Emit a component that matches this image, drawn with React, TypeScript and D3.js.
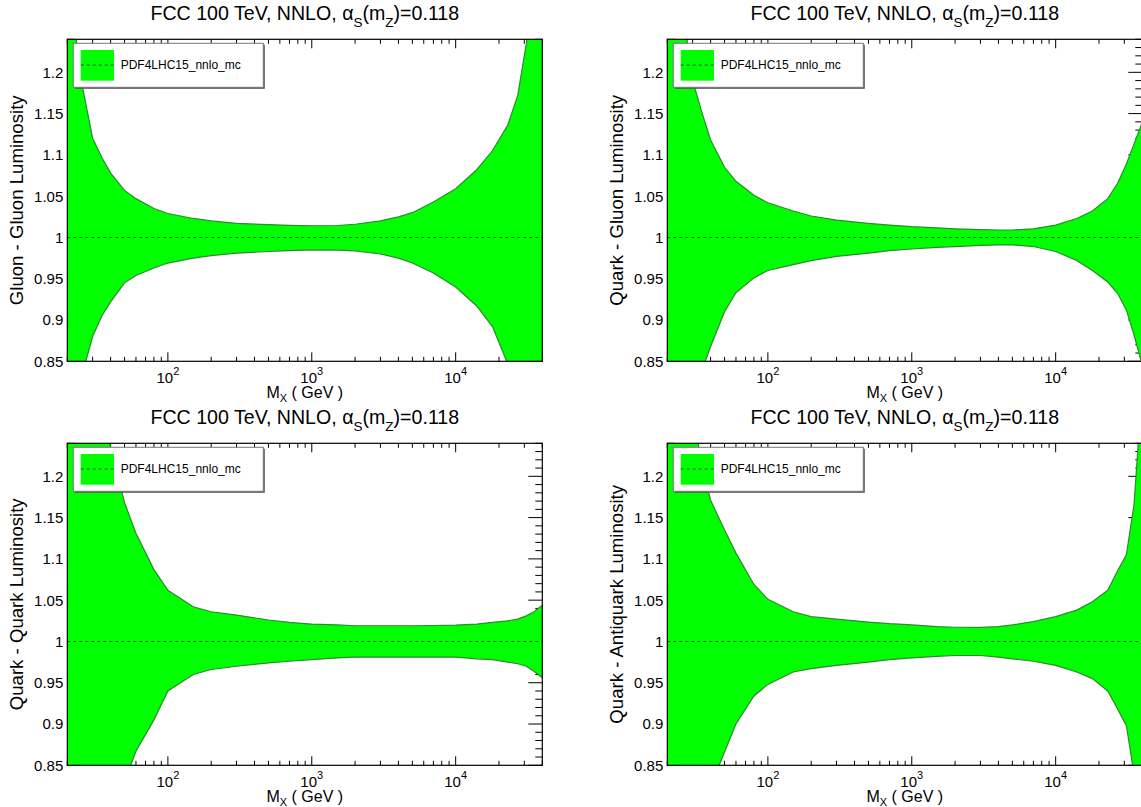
import React from "react";
import * as d3 from "d3";

// ---------- data ----------
const MASS = [20, 25, 30, 35, 40, 50, 60, 80, 100, 150, 200, 300, 500, 700, 1000, 1500, 2000, 3000, 4000, 5000, 7000, 10000, 14000, 18000, 23000, 27000, 31000, 35000, 40000];

const ggUpper = [1.33, 1.19, 1.12, 1.096, 1.078, 1.057, 1.047, 1.035, 1.029, 1.023, 1.020, 1.017, 1.0155, 1.0147, 1.0142, 1.0145, 1.016, 1.020, 1.025, 1.030, 1.043, 1.059, 1.082, 1.105, 1.136, 1.172, 1.235, 1.30, 1.40];
const ggLower = [0.70, 0.83, 0.880, 0.906, 0.922, 0.945, 0.954, 0.963, 0.969, 0.975, 0.978, 0.981, 0.983, 0.984, 0.985, 0.9847, 0.9838, 0.980, 0.975, 0.969, 0.957, 0.940, 0.917, 0.892, 0.847, 0.80, 0.75, 0.70, 0.63];

const qgUpper = [1.42, 1.29, 1.19, 1.150, 1.118, 1.085, 1.068, 1.051, 1.042, 1.032, 1.026, 1.021, 1.017, 1.015, 1.013, 1.0115, 1.0105, 1.0095, 1.009, 1.009, 1.0105, 1.015, 1.023, 1.032, 1.047, 1.066, 1.089, 1.113, 1.140];
const qgLower = [0.62, 0.71, 0.79, 0.84, 0.868, 0.910, 0.933, 0.951, 0.960, 0.967, 0.972, 0.977, 0.981, 0.984, 0.986, 0.988, 0.989, 0.9905, 0.991, 0.991, 0.989, 0.983, 0.972, 0.960, 0.946, 0.932, 0.912, 0.882, 0.845];

const qqUpper = [1.55, 1.45, 1.36, 1.29, 1.235, 1.168, 1.131, 1.087, 1.062, 1.042, 1.036, 1.032, 1.026, 1.023, 1.021, 1.020, 1.019, 1.019, 1.019, 1.019, 1.0193, 1.0198, 1.021, 1.023, 1.025, 1.027, 1.031, 1.036, 1.044];
const qqLower = [0.45, 0.53, 0.61, 0.68, 0.74, 0.83, 0.867, 0.905, 0.940, 0.960, 0.966, 0.970, 0.974, 0.976, 0.978, 0.980, 0.981, 0.981, 0.981, 0.981, 0.981, 0.981, 0.979, 0.978, 0.975, 0.973, 0.970, 0.964, 0.956];

const qqbarUpper = [1.50, 1.38, 1.28, 1.21, 1.171, 1.135, 1.107, 1.069, 1.051, 1.036, 1.030, 1.027, 1.0235, 1.0215, 1.020, 1.018, 1.0172, 1.017, 1.018, 1.020, 1.024, 1.030, 1.038, 1.048, 1.062, 1.086, 1.105, 1.165, 1.31];
const qqbarLower = [0.55, 0.64, 0.72, 0.78, 0.825, 0.866, 0.900, 0.934, 0.948, 0.963, 0.967, 0.971, 0.975, 0.978, 0.980, 0.982, 0.983, 0.983, 0.981, 0.979, 0.976, 0.971, 0.963, 0.955, 0.940, 0.918, 0.898, 0.84, 0.70];

const Y_LABELS = ["Gluon - Gluon Luminosity", "Quark - Gluon Luminosity", "Quark - Quark Luminosity", "Quark - Antiquark Luminosity"];
const Y_TICKS = [0.85, 0.9, 0.95, 1, 1.05, 1.1, 1.15, 1.2];
const Y_TICK_LABELS = ["0.85", "0.9", "0.95", "1", "1.05", "1.1", "1.15", "1.2"];
const X_MAJOR = [100, 1000, 10000];
const X_MAJOR_EXP = ["2", "3", "4"];
const LEGEND_LABEL = "PDF4LHC15_nnlo_mc";
const X_DOMAIN = [20, 40000];
const Y_DOMAIN = [0.85, 1.24];

// ---------- layout ----------
const W = 1141;
const H = 807;
const FW = 475;
const FH = 322;
const PANEL_ORIGINS = [
  [67.3, 39.3],
  [667.3, 39.3],
  [67.3, 443.3],
  [667.3, 443.3],
];
const FONT = "'Liberation Sans', Arial, Helvetica, sans-serif";
const GREEN = "#00ff00";
const EDGE = "#2a8c2a";
const DASH = "#2a4f2a";

type P = { m: number; hi: number; lo: number };

function Panel({ idx, upper, lower }: { idx: number; upper: number[]; lower: number[] }) {
  const [ox, oy] = PANEL_ORIGINS[idx];
  const x = d3.scaleLog().domain(X_DOMAIN).range([0, FW]);
  const y = d3.scaleLinear().domain(Y_DOMAIN).range([FH, 0]);
  const pts: P[] = MASS.map((m, i) => ({ m, hi: upper[i], lo: lower[i] }));
  const area = d3.area<P>().x((d) => x(d.m)).y0((d) => y(d.lo)).y1((d) => y(d.hi));
  const lineHi = d3.line<P>().x((d) => x(d.m)).y((d) => y(d.hi));
  const lineLo = d3.line<P>().x((d) => x(d.m)).y((d) => y(d.lo));

  const minorX: number[] = [];
  for (let dec = 10; dec <= 10000; dec *= 10) {
    for (let k = 2; k <= 9; k++) {
      const v = dec * k;
      if (v >= X_DOMAIN[0] && v <= X_DOMAIN[1]) minorX.push(v);
    }
  }
  const minorY: number[] = d3.range(85, 125).map((v) => v / 100);

  const clipId = `clip${idx}`;
  const xMajLen = 9, xMinLen = 4.5, yMajLen = 14, yMinLen = 7;

  return (
    <g transform={`translate(${ox},${oy})`}>
      <defs>
        <clipPath id={clipId}>
          <rect x={0} y={0} width={FW} height={FH} />
        </clipPath>
      </defs>
      {/* ticks */}
      <g stroke="#000" strokeWidth={1}>
        {minorX.map((v) => (
          <g key={"mx" + v}>
            <line x1={x(v)} x2={x(v)} y1={FH} y2={FH - xMinLen} />
            <line x1={x(v)} x2={x(v)} y1={0} y2={xMinLen} />
          </g>
        ))}
        {X_MAJOR.map((v) => (
          <g key={"Mx" + v}>
            <line x1={x(v)} x2={x(v)} y1={FH} y2={FH - xMajLen} />
            <line x1={x(v)} x2={x(v)} y1={0} y2={xMajLen} />
          </g>
        ))}
        {minorY.map((v) => {
          const major = Math.abs(v * 20 - Math.round(v * 20)) < 1e-6;
          const len = major ? yMajLen : yMinLen;
          return (
            <g key={"my" + v}>
              <line x1={0} x2={len} y1={y(v)} y2={y(v)} />
              <line x1={FW} x2={FW - len} y1={y(v)} y2={y(v)} />
            </g>
          );
        })}
      </g>
      {/* band */}
      <g clipPath={`url(#${clipId})`}>
        <path d={area(pts) || ""} fill={GREEN} stroke="none" />
        <path d={lineHi(pts) || ""} fill="none" stroke={EDGE} strokeWidth={1.2} />
        <path d={lineLo(pts) || ""} fill="none" stroke={EDGE} strokeWidth={1.2} />
        <line x1={0} x2={FW} y1={y(1)} y2={y(1)} stroke={DASH} strokeWidth={1.1} strokeDasharray="3 3" />
      </g>
      {/* frame */}
      <rect x={0} y={0} width={FW} height={FH} fill="none" stroke="#000" strokeWidth={1.2} />
      {/* y tick labels */}
      {Y_TICKS.map((v, i) => (
        <text key={"yl" + v} x={-4} y={y(v)} dy="0.36em" textAnchor="end" fontSize={15} fontFamily={FONT} fill="#000">
          {Y_TICK_LABELS[i]}
        </text>
      ))}
      {/* x tick labels */}
      {X_MAJOR.map((v, i) => (
        <text key={"xl" + v} x={x(v)} y={FH + 21.5} textAnchor="middle" fontSize={15} fontFamily={FONT} fill="#000">
          10
          <tspan fontSize={11} dy={-8}>{X_MAJOR_EXP[i]}</tspan>
        </text>
      ))}
      {/* x title */}
      <text x={FW / 2} y={FH + 36.5} textAnchor="middle" fontSize={16} fontFamily={FONT} fill="#000">
        M<tspan fontSize={11} dy={4}>X</tspan>
        <tspan dy={-4}> ( GeV )</tspan>
      </text>
      {/* y title */}
      <text
        transform={`translate(${-44.7},${FH / 2}) rotate(-90)`}
        textAnchor="middle"
        fontSize={18.6}
        fontFamily={FONT}
        fill="#000"
      >
        {Y_LABELS[idx]}
      </text>
      {/* title */}
      <text x={FW / 2} y={-19.3} textAnchor="middle" fontSize={19.6} fontFamily={FONT} fill="#000">
        FCC 100 TeV, NNLO, α<tspan fontSize={13.5} dy={6.5}>S</tspan>
        <tspan dy={-6.5}>(m</tspan>
        <tspan fontSize={13.5} dy={6.5}>Z</tspan>
        <tspan dy={-6.5}>)=0.118</tspan>
      </text>
      {/* legend */}
      <g transform="translate(6,4)">
        <rect x={1.5} y={1.5} width={190} height={44} fill="#555" />
        <rect x={0} y={0} width={190} height={44} fill="#fff" stroke="#777" strokeWidth={1} />
        <rect x={7.4} y={6.7} width={33.3} height={30.7} fill={GREEN} />
        <line x1={7.4} x2={40.7} y1={21.7} y2={21.7} stroke={DASH} strokeWidth={1} strokeDasharray="3 3" />
        <text x={47.4} y={25.7} fontSize={12} fontFamily={FONT} fill="#000">
          {LEGEND_LABEL}
        </text>
      </g>
    </g>
  );
}

export default function App() {
  const bands = [
    [ggUpper, ggLower],
    [qgUpper, qgLower],
    [qqUpper, qqLower],
    [qqbarUpper, qqbarLower],
  ];
  return (
    <svg
      width={W}
      height={H}
      style={{ position: "absolute", left: 0, top: 0, background: "#fff", display: "block" }}
    >
      <rect x={0} y={0} width={W} height={H} fill="#fff" />
      {bands.map(([u, l], i) => (
        <Panel key={i} idx={i} upper={u} lower={l} />
      ))}
    </svg>
  );
}
